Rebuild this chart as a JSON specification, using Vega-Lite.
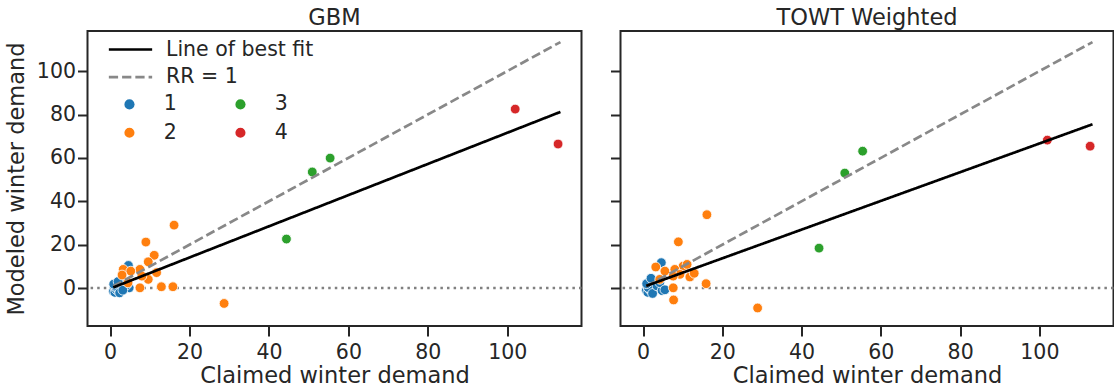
{
  "$schema": "https://vega.github.io/schema/vega-lite/v6.json",
  "padding": {"left": 4.5, "top": 5, "right": 1, "bottom": 0},
  "background": "white",
  "config": {
    "font": "DejaVu Sans",
    "view": {"stroke": "#262626", "strokeWidth": 2},
    "axis": {
      "domain": false, "grid": false, "tickSize": 10, "tickWidth": 2, "tickColor": "#262626",
      "labelFont": "DejaVu Sans", "labelFontSize": 20.5, "labelColor": "#262626",
      "titleFont": "DejaVu Sans", "titleFontSize": 22.5, "titleFontWeight": "normal", "titleColor": "#262626",
      "labelOverlap": false, "labelFlush": false
    },
    "axisX": {"titlePadding": 2, "labelPadding": 6},
    "axisY": {"titlePadding": 7.5, "labelPadding": 2},
    "title": {"font": "DejaVu Sans", "fontSize": 22.5, "fontWeight": "normal", "color": "#262626", "offset": 2},
    "legend": {"labelFont": "DejaVu Sans", "labelFontSize": 20.5, "labelColor": "#262626"}
  },
  "datasets": {
    "points": [
      {"panel": "GBM", "cluster": "1", "claimed": 0.8, "modeled": -1.5},
      {"panel": "GBM", "cluster": "1", "claimed": 1.0, "modeled": 0.5},
      {"panel": "GBM", "cluster": "1", "claimed": 1.2, "modeled": -2.0},
      {"panel": "GBM", "cluster": "1", "claimed": 1.5, "modeled": 1.5},
      {"panel": "GBM", "cluster": "1", "claimed": 1.6, "modeled": -0.8},
      {"panel": "GBM", "cluster": "1", "claimed": 1.8, "modeled": 2.5},
      {"panel": "GBM", "cluster": "1", "claimed": 2.0, "modeled": 0.0},
      {"panel": "GBM", "cluster": "1", "claimed": 2.2, "modeled": -1.2},
      {"panel": "GBM", "cluster": "1", "claimed": 2.5, "modeled": 1.0},
      {"panel": "GBM", "cluster": "1", "claimed": 2.8, "modeled": -0.5},
      {"panel": "GBM", "cluster": "1", "claimed": 3.0, "modeled": 2.0},
      {"panel": "GBM", "cluster": "1", "claimed": 1.3, "modeled": 0.8},
      {"panel": "GBM", "cluster": "1", "claimed": 0.9, "modeled": 1.8},
      {"panel": "GBM", "cluster": "1", "claimed": 2.4, "modeled": -2.2},
      {"panel": "GBM", "cluster": "1", "claimed": 3.5, "modeled": 0.5},
      {"panel": "GBM", "cluster": "1", "claimed": 4.8, "modeled": 0.1},
      {"panel": "GBM", "cluster": "1", "claimed": 4.6, "modeled": 10.4},
      {"panel": "GBM", "cluster": "1", "claimed": 4.2, "modeled": 1.5},
      {"panel": "GBM", "cluster": "1", "claimed": 2.0, "modeled": 3.0},
      {"panel": "GBM", "cluster": "1", "claimed": 3.2, "modeled": -1.0},
      {"panel": "GBM", "cluster": "2", "claimed": 16.1, "modeled": 29.0},
      {"panel": "GBM", "cluster": "2", "claimed": 9.0, "modeled": 21.2},
      {"panel": "GBM", "cluster": "2", "claimed": 11.1, "modeled": 15.1},
      {"panel": "GBM", "cluster": "2", "claimed": 9.6, "modeled": 12.1},
      {"panel": "GBM", "cluster": "2", "claimed": 7.5, "modeled": 8.6},
      {"panel": "GBM", "cluster": "2", "claimed": 11.7, "modeled": 7.1},
      {"panel": "GBM", "cluster": "2", "claimed": 9.6, "modeled": 4.0},
      {"panel": "GBM", "cluster": "2", "claimed": 12.9, "modeled": 0.6},
      {"panel": "GBM", "cluster": "2", "claimed": 15.8, "modeled": 0.6},
      {"panel": "GBM", "cluster": "2", "claimed": 7.5, "modeled": 0.1},
      {"panel": "GBM", "cluster": "2", "claimed": 28.7, "modeled": -7.1},
      {"panel": "GBM", "cluster": "2", "claimed": 3.3, "modeled": 8.6},
      {"panel": "GBM", "cluster": "2", "claimed": 5.2, "modeled": 7.8},
      {"panel": "GBM", "cluster": "2", "claimed": 4.5, "modeled": 2.4},
      {"panel": "GBM", "cluster": "2", "claimed": 8.0, "modeled": 5.5},
      {"panel": "GBM", "cluster": "2", "claimed": 3.0, "modeled": 6.0},
      {"panel": "GBM", "cluster": "3", "claimed": 50.9, "modeled": 53.5},
      {"panel": "GBM", "cluster": "3", "claimed": 55.4, "modeled": 59.9},
      {"panel": "GBM", "cluster": "3", "claimed": 44.4, "modeled": 22.6},
      {"panel": "GBM", "cluster": "4", "claimed": 102.0, "modeled": 82.5},
      {"panel": "GBM", "cluster": "4", "claimed": 112.8, "modeled": 66.4},
      {"panel": "TOWT Weighted", "cluster": "1", "claimed": 0.8, "modeled": -1.0},
      {"panel": "TOWT Weighted", "cluster": "1", "claimed": 1.0, "modeled": 1.0},
      {"panel": "TOWT Weighted", "cluster": "1", "claimed": 1.2, "modeled": -2.0},
      {"panel": "TOWT Weighted", "cluster": "1", "claimed": 1.5, "modeled": 2.5},
      {"panel": "TOWT Weighted", "cluster": "1", "claimed": 1.6, "modeled": -0.5},
      {"panel": "TOWT Weighted", "cluster": "1", "claimed": 1.8, "modeled": 3.5},
      {"panel": "TOWT Weighted", "cluster": "1", "claimed": 2.0, "modeled": 0.5},
      {"panel": "TOWT Weighted", "cluster": "1", "claimed": 2.2, "modeled": -1.5},
      {"panel": "TOWT Weighted", "cluster": "1", "claimed": 2.5, "modeled": 1.5},
      {"panel": "TOWT Weighted", "cluster": "1", "claimed": 2.8, "modeled": -0.2},
      {"panel": "TOWT Weighted", "cluster": "1", "claimed": 3.0, "modeled": 2.5},
      {"panel": "TOWT Weighted", "cluster": "1", "claimed": 1.3, "modeled": 0.2},
      {"panel": "TOWT Weighted", "cluster": "1", "claimed": 0.9, "modeled": 2.0},
      {"panel": "TOWT Weighted", "cluster": "1", "claimed": 2.4, "modeled": -2.5},
      {"panel": "TOWT Weighted", "cluster": "1", "claimed": 3.5, "modeled": 1.0},
      {"panel": "TOWT Weighted", "cluster": "1", "claimed": 4.8, "modeled": -1.2},
      {"panel": "TOWT Weighted", "cluster": "1", "claimed": 4.6, "modeled": 11.7},
      {"panel": "TOWT Weighted", "cluster": "1", "claimed": 4.2, "modeled": 2.5},
      {"panel": "TOWT Weighted", "cluster": "1", "claimed": 2.0, "modeled": 4.5},
      {"panel": "TOWT Weighted", "cluster": "1", "claimed": 5.5, "modeled": -0.8},
      {"panel": "TOWT Weighted", "cluster": "2", "claimed": 16.1, "modeled": 33.8},
      {"panel": "TOWT Weighted", "cluster": "2", "claimed": 8.9, "modeled": 21.3},
      {"panel": "TOWT Weighted", "cluster": "2", "claimed": 10.1, "modeled": 10.1},
      {"panel": "TOWT Weighted", "cluster": "2", "claimed": 11.1, "modeled": 10.9},
      {"panel": "TOWT Weighted", "cluster": "2", "claimed": 8.0, "modeled": 8.6},
      {"panel": "TOWT Weighted", "cluster": "2", "claimed": 3.2, "modeled": 9.7},
      {"panel": "TOWT Weighted", "cluster": "2", "claimed": 5.5, "modeled": 7.8},
      {"panel": "TOWT Weighted", "cluster": "2", "claimed": 9.3, "modeled": 6.3},
      {"panel": "TOWT Weighted", "cluster": "2", "claimed": 11.8, "modeled": 5.1},
      {"panel": "TOWT Weighted", "cluster": "2", "claimed": 7.6, "modeled": 5.5},
      {"panel": "TOWT Weighted", "cluster": "2", "claimed": 4.2, "modeled": 4.0},
      {"panel": "TOWT Weighted", "cluster": "2", "claimed": 7.6, "modeled": 0.1},
      {"panel": "TOWT Weighted", "cluster": "2", "claimed": 15.9, "modeled": 2.0},
      {"panel": "TOWT Weighted", "cluster": "2", "claimed": 7.7, "modeled": -5.5},
      {"panel": "TOWT Weighted", "cluster": "2", "claimed": 28.9, "modeled": -9.2},
      {"panel": "TOWT Weighted", "cluster": "2", "claimed": 12.9, "modeled": 6.8},
      {"panel": "TOWT Weighted", "cluster": "3", "claimed": 50.9, "modeled": 53.0},
      {"panel": "TOWT Weighted", "cluster": "3", "claimed": 55.4, "modeled": 63.1},
      {"panel": "TOWT Weighted", "cluster": "3", "claimed": 44.4, "modeled": 18.4},
      {"panel": "TOWT Weighted", "cluster": "4", "claimed": 102.0, "modeled": 68.2},
      {"panel": "TOWT Weighted", "cluster": "4", "claimed": 112.8, "modeled": 65.4}
    ],
    "lines": [
      {"panel": "GBM", "series": "RR = 1", "claimed": 0.8, "modeled": 0.8},
      {"panel": "GBM", "series": "RR = 1", "claimed": 113.4, "modeled": 113.4},
      {"panel": "GBM", "series": "Line of best fit", "claimed": 0.8, "modeled": 0.3},
      {"panel": "GBM", "series": "Line of best fit", "claimed": 113.4, "modeled": 81.2},
      {"panel": "TOWT Weighted", "series": "RR = 1", "claimed": 0.8, "modeled": 0.8},
      {"panel": "TOWT Weighted", "series": "RR = 1", "claimed": 113.4, "modeled": 113.4},
      {"panel": "TOWT Weighted", "series": "Line of best fit", "claimed": 0.8, "modeled": 1.0},
      {"panel": "TOWT Weighted", "series": "Line of best fit", "claimed": 113.4, "modeled": 75.5}
    ],
    "zero": [{"level": 0}]
  },
  "hconcat": [
    {
      "title": "GBM",
      "width": 494,
      "height": 295,
      "layer": [
        {
          "data": {"name": "zero"},
          "mark": {"type": "rule", "color": "#808080", "strokeWidth": 2.5, "strokeDash": [2.5, 4.1]},
          "encoding": {"y": {"field": "level", "type": "quantitative", "scale": {"domain": [-17.5, 118.5], "nice": false, "zero": false}}}
        },
        {
          "data": {"name": "points"},
          "transform": [{"filter": "datum.panel === 'GBM'"}],
          "mark": {"type": "point", "filled": true, "shape": "circle", "size": 95, "opacity": 1, "stroke": "white", "strokeWidth": 0.8},
          "encoding": {
            "x": {"field": "claimed", "type": "quantitative", "scale": {"domain": [-5.7, 118.7], "nice": false, "zero": false},
                  "axis": {"values": [0, 20, 40, 60, 80, 100], "title": "Claimed winter demand"}},
            "y": {"field": "modeled", "type": "quantitative", "scale": {"domain": [-17.5, 118.5], "nice": false, "zero": false},
                  "axis": {"values": [0, 20, 40, 60, 80, 100], "title": "Modeled winter demand"}},
            "fill": {"field": "cluster", "type": "nominal",
                     "scale": {"domain": ["1", "2", "3", "4"], "range": ["#1f77b4", "#ff7f0e", "#2ca02c", "#d62728"]},
                     "legend": {"title": null, "orient": "none", "legendX": 31.7, "legendY": 63, "columns": 2,
                                "symbolType": "circle", "symbolSize": 135, "symbolOffset": 0, "labelOffset": 24,
                                "columnPadding": 53, "rowPadding": 7.5, "labelFontSize": 20.5}}
          }
        },
        {
          "data": {"name": "lines"},
          "transform": [{"filter": "datum.panel === 'GBM'"}],
          "mark": {"type": "line", "strokeWidth": 2.7},
          "encoding": {
            "x": {"field": "claimed", "type": "quantitative"},
            "y": {"field": "modeled", "type": "quantitative"},
            "stroke": {"field": "series", "type": "nominal",
                       "scale": {"domain": ["Line of best fit", "RR = 1"], "range": ["black", "#888888"]},
                       "legend": {"title": null, "orient": "none", "legendX": 30.5, "legendY": 6,
                                  "symbolType": "M-2,0H2", "symbolSize": 469, "symbolStrokeWidth": 2.7,
                                  "labelOffset": 23, "rowPadding": 4.6, "labelFontSize": 20.5}},
            "strokeDash": {"field": "series", "type": "nominal",
                           "scale": {"domain": ["Line of best fit", "RR = 1"], "range": [[1, 0], [9.25, 4]]},
                           "legend": {"title": null, "orient": "none", "legendX": 30.5, "legendY": 6,
                                      "symbolType": "M-2,0H2", "symbolSize": 469, "symbolStrokeWidth": 2.7,
                                      "labelOffset": 23, "rowPadding": 4.6, "labelFontSize": 20.5}}
          }
        }
      ]
    },
    {
      "title": "TOWT Weighted",
      "width": 493,
      "height": 295,
      "layer": [
        {
          "data": {"name": "zero"},
          "mark": {"type": "rule", "color": "#808080", "strokeWidth": 2.5, "strokeDash": [2.5, 4.1]},
          "encoding": {"y": {"field": "level", "type": "quantitative", "scale": {"domain": [-17.5, 118.5], "nice": false, "zero": false}}}
        },
        {
          "data": {"name": "points"},
          "transform": [{"filter": "datum.panel === 'TOWT Weighted'"}],
          "mark": {"type": "point", "filled": true, "shape": "circle", "size": 95, "opacity": 1, "stroke": "white", "strokeWidth": 0.8},
          "encoding": {
            "x": {"field": "claimed", "type": "quantitative", "scale": {"domain": [-5.7, 118.7], "nice": false, "zero": false},
                  "axis": {"values": [0, 20, 40, 60, 80, 100], "title": "Claimed winter demand"}},
            "y": {"field": "modeled", "type": "quantitative", "scale": {"domain": [-17.5, 118.5], "nice": false, "zero": false},
                  "axis": {"values": [0, 20, 40, 60, 80, 100], "title": null, "labels": false}},
            "fill": {"field": "cluster", "type": "nominal",
                     "scale": {"domain": ["1", "2", "3", "4"], "range": ["#1f77b4", "#ff7f0e", "#2ca02c", "#d62728"]},
                     "legend": null}
          }
        },
        {
          "data": {"name": "lines"},
          "transform": [{"filter": "datum.panel === 'TOWT Weighted'"}],
          "mark": {"type": "line", "strokeWidth": 2.7},
          "encoding": {
            "x": {"field": "claimed", "type": "quantitative"},
            "y": {"field": "modeled", "type": "quantitative"},
            "stroke": {"field": "series", "type": "nominal",
                       "scale": {"domain": ["Line of best fit", "RR = 1"], "range": ["black", "#888888"]}, "legend": null},
            "strokeDash": {"field": "series", "type": "nominal",
                           "scale": {"domain": ["Line of best fit", "RR = 1"], "range": [[1, 0], [9.25, 4]]}, "legend": null}
          }
        }
      ]
    }
  ],
  "spacing": 24,
  "resolve": {
    "scale": {"fill": "independent", "stroke": "independent", "strokeDash": "independent"},
    "legend": {"fill": "independent", "stroke": "independent", "strokeDash": "independent"}
  }
}
